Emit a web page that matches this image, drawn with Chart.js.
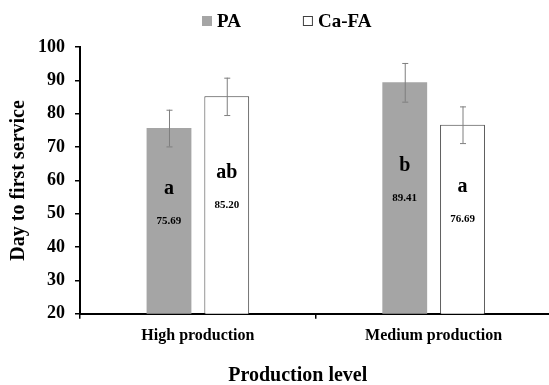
<!DOCTYPE html>
<html>
<head>
<meta charset="utf-8">
<script src="https://cdn.jsdelivr.net/npm/chart.js@4.4.1/dist/chart.umd.min.js"></script>
<style>
  html, body { margin: 0; padding: 0; background: #fff; overflow: hidden; }
  #wrap { position: relative; width: 560px; height: 385px; }
</style>
</head>
<body>
<div id="wrap"><canvas id="chart"></canvas></div>
<script>
const categories = ['High production', 'Medium production'];
const seriesNames = ['PA', 'Ca-FA'];
const paValues = [75.69, 89.41];
const cafaValues = [85.20, 76.69];
const paErrors = [5.5, 5.8];
const cafaErrors = [5.6, 5.5];
const paLetters = ['a', 'b'];
const cafaLetters = ['ab', 'a'];
const yMin = 20;
const yMax = 100;
const yStep = 10;

const serif = "'Liberation Serif', 'Times New Roman', serif";
const gray = '#a5a5a5';

// error bars, significance letters and means inside the bars
const barNotes = {
    id: 'barNotes',
    afterDatasetsDraw(chart) {
        const ctx = chart.ctx;
        const y = chart.scales.y;
        chart.data.datasets.forEach((ds, i) => {
            const meta = chart.getDatasetMeta(i);
            meta.data.forEach((bar, j) => {
                const v = ds.data[j];
                const err = ds.errors[j];
                const top = y.getPixelForValue(v + err);
                const bot = y.getPixelForValue(v - err);
                ctx.save();
                ctx.strokeStyle = '#7f7f7f';
                ctx.lineWidth = 1;
                ctx.beginPath();
                ctx.moveTo(bar.x + 0.5, top);
                ctx.lineTo(bar.x + 0.5, bot);
                ctx.moveTo(bar.x - 2.5, top + 0.5);
                ctx.lineTo(bar.x + 3.5, top + 0.5);
                ctx.moveTo(bar.x - 2.5, bot + 0.5);
                ctx.lineTo(bar.x + 3.5, bot + 0.5);
                ctx.stroke();

                // bars start at 0, so the visible middle is between top and axis
                const mid = (bar.y + y.bottom) / 2;
                ctx.fillStyle = '#000';
                ctx.textAlign = 'center';
                ctx.textBaseline = 'middle';
                ctx.font = 'bold 11px ' + serif;
                ctx.fillText(v.toFixed(2), bar.x, mid);
                ctx.font = 'bold 20px ' + serif;
                ctx.fillText(ds.letters[j], bar.x, mid - 32);
                ctx.restore();
            });
        });
    }
};

// legend row at the top and x axis title
const extras = {
    id: 'extras',
    afterDraw(chart, args, opts) {
        const ctx = chart.ctx;
        ctx.save();
        ctx.font = 'bold 19px ' + serif;
        ctx.textBaseline = 'middle';
        ctx.textAlign = 'left';
        let x = opts.legendLeft;
        chart.data.datasets.forEach(ds => {
            ctx.fillStyle = ds.backgroundColor;
            ctx.fillRect(x, opts.legendY - 5, 10, 10);
            if (ds.borderWidth) {
                ctx.strokeStyle = ds.borderColor;
                ctx.lineWidth = 1;
                ctx.strokeRect(x + 0.5, opts.legendY - 4.5, 9, 9);
            }
            ctx.fillStyle = '#000';
            ctx.fillText(ds.label, x + 15, opts.legendY + 1);
            x += 15 + ctx.measureText(ds.label).width + opts.legendGap;
        });

        ctx.font = 'bold 20px ' + serif;
        ctx.textAlign = 'center';
        ctx.textBaseline = 'alphabetic';
        const area = chart.chartArea;
        ctx.fillText(opts.xTitle, (area.left + area.right) / 2 + opts.xTitleShift, opts.xTitleY);
        ctx.restore();
    }
};

new Chart(document.getElementById('chart'), {
    type: 'bar',
    data: {
        labels: categories,
        datasets: [
            {
                label: seriesNames[0],
                data: paValues,
                errors: paErrors,
                letters: paLetters,
                backgroundColor: gray,
                borderWidth: 0,
                categoryPercentage: 0.49,
                barPercentage: 0.776,
            },
            {
                label: seriesNames[1],
                data: cafaValues,
                errors: cafaErrors,
                letters: cafaLetters,
                backgroundColor: '#ffffff',
                borderColor: '#404040',
                borderWidth: 1,
                categoryPercentage: 0.49,
                barPercentage: 0.776,
            },
        ],
    },
    options: {
        responsive: true,
        maintainAspectRatio: false,
        animation: false,
        layout: { padding: { left: 0.5, top: 47, right: 8.5, bottom: 33 } },
        plugins: {
            legend: { display: false },
            tooltip: { enabled: false },
            extras: {
                legendLeft: 202,
                legendY: 21,
                legendGap: 62,
                xTitle: 'Production level',
                xTitleShift: -18,
                xTitleY: 380.5,
            },
        },
        scales: {
            x: {
                border: { color: '#000', width: 2 },
                grid: { display: true, drawOnChartArea: false, offset: true, color: '#000', lineWidth: 1.5, tickLength: 5 },
                ticks: { color: '#000', padding: 7, font: { family: serif, size: 16, weight: 'bold' } },
            },
            y: {
                min: yMin,
                max: yMax,
                border: { color: '#000', width: 2 },
                grid: { drawOnChartArea: false, color: '#000', lineWidth: 1.5, tickLength: 5 },
                ticks: { stepSize: yStep, color: '#000', padding: 10, font: { family: serif, size: 18, weight: 'bold' } },
                title: {
                    display: true,
                    text: 'Day to first service',
                    color: '#000',
                    padding: { top: 9.5, bottom: 0 },
                    font: { family: serif, size: 20, weight: 'bold', lineHeight: 0.9 },
                },
            },
        },
    },
    plugins: [barNotes, extras],
});
</script>
</body>
</html>
